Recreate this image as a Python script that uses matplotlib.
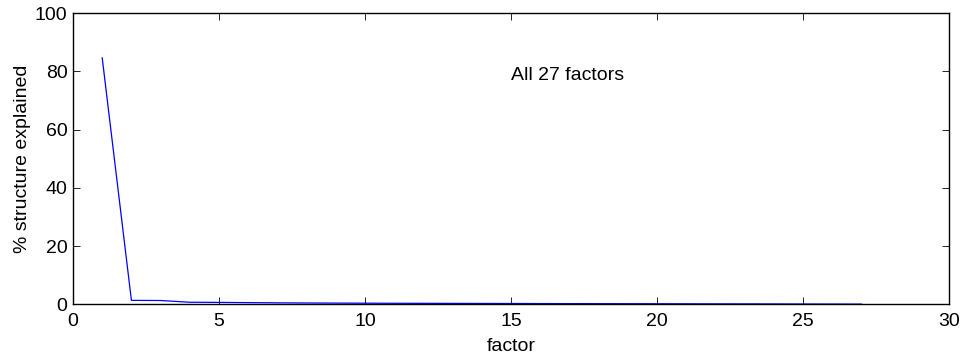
import matplotlib
matplotlib.use("Agg")
import matplotlib.pyplot as plt

plt.rcParams['font.family'] = ['Liberation Sans', 'DejaVu Sans']

# percentual de estrutura explicada por cada fator
fatores = list(range(1, 28))
explicada = [84.6, 1.4, 1.35, 0.75, 0.7, 0.62, 0.55, 0.5, 0.46, 0.43,
             0.4, 0.38, 0.36, 0.34, 0.32, 0.3, 0.28, 0.27, 0.25, 0.24,
             0.22, 0.2, 0.19, 0.17, 0.15, 0.13, 0.11]

fs = 14

fig = plt.figure(figsize=(9.67, 3.62), dpi=100)
ax = fig.add_axes([0.0755, 0.159, 0.906, 0.805])
ax.plot(fatores, explicada, color='blue', linewidth=0.9)

ax.set_xlim(0, 30)
ax.set_ylim(0, 100)
ax.set_xticks([0, 5, 10, 15, 20, 25, 30])
ax.set_yticks([0, 20, 40, 60, 80, 100])
ax.tick_params(direction='in', top=True, right=True, length=5, width=0.6,
               labelsize=fs)
ax.tick_params(axis='x', pad=6)
ax.tick_params(axis='y', pad=4)
for s in ax.spines.values():
    s.set_linewidth(1.0)

ax.set_xlabel('factor', fontsize=fs, labelpad=6)
ax.set_ylabel('% structure explained', fontsize=fs, labelpad=3)
ax.text(15, 78.7, 'All 27 factors', fontsize=fs, va='center', ha='left')

fig.savefig('out.png', dpi=100)
